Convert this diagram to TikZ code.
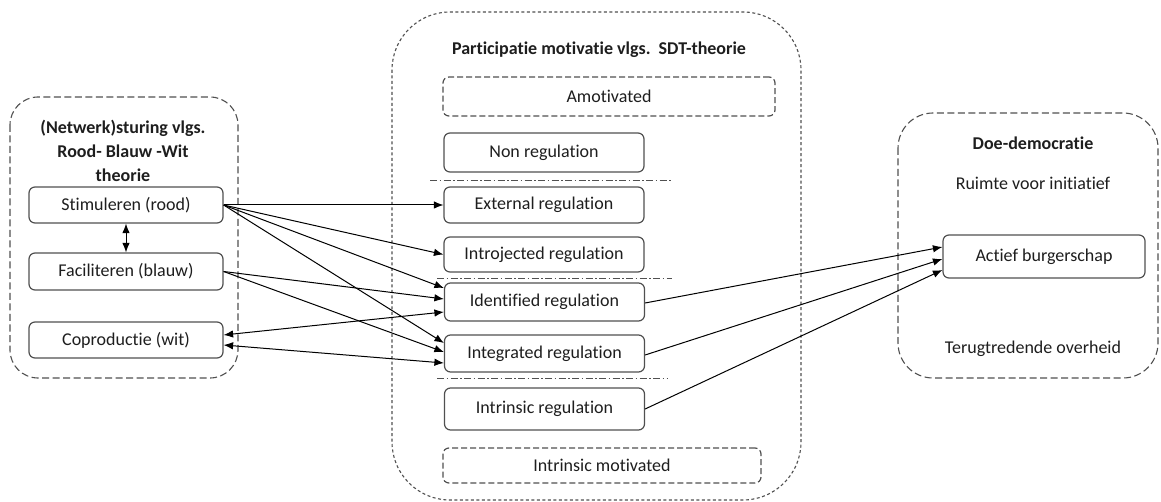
\documentclass[tikz,border=0pt]{standalone}
\usepackage{fontspec}
\setmainfont{Carlito}[Ligatures={NoCommon}]
\usetikzlibrary{arrows.meta,calc}
\definecolor{boxline}{HTML}{505050}
\definecolor{txt}{HTML}{1E1E1E}
\begin{document}
\begin{tikzpicture}[x=1pt,y=-1pt,
  every node/.style={font=\fontsize{18}{21}\selectfont, text=txt},
  regbox/.style={draw=boxline, line width=1.2pt, rounded corners=6pt, inner sep=0pt, minimum width=200pt},
  lbox/.style={regbox, minimum width=194pt, minimum height=36pt},
  dbox/.style={draw=boxline, line width=1.2pt, rounded corners=6pt, inner sep=0pt, dash pattern=on 6pt off 3pt},
  container/.style={draw=boxline, line width=1.1pt, dash pattern=on 7pt off 3.5pt},
  midcontainer/.style={draw=boxline, line width=1.1pt, dash pattern=on 3pt off 2.5pt},
  sep/.style={draw=boxline, line width=1pt, dash pattern=on 7pt off 2.5pt on 1.5pt off 2.5pt},
  title/.style={font=\bfseries\fontsize{18}{21}\selectfont},
  arr/.style={-{Latex[length=9.5pt,width=7.5pt]}, line width=1pt, black},
  darr/.style={{Latex[length=9.5pt,width=7.5pt]}-{Latex[length=9.5pt,width=7.5pt]}, line width=1pt, black}
]
\useasboundingbox (0,0) rectangle (1161,502);
\fill[white] (0,0) rectangle (1161,502);

% containers
\draw[container, rounded corners=28pt] (10,97) rectangle (238,378);
\draw[midcontainer, rounded corners=58pt] (392,12) rectangle (801,500);
\draw[container, rounded corners=35pt] (898,113) rectangle (1158,378);

% left titles
\node[title] (lt1) at (123,128) {(Netwerk)sturing vlgs.};
\node[title] (lt2) at (123,151) {Rood- Blauw -Wit};
\node[title] (lt3) at (123,175) {theorie};

% left boxes
\node[lbox] (stim) at (126,205) {Stimuleren (rood)};
\node[lbox, minimum height=37pt] (fac) at (126,271.5) {Faciliteren (blauw)};
\node[lbox] (cop) at (126,340) {Coproductie (wit)};

% middle
\node[title] (mt) at (599,50) {Participatie motivatie vlgs.\ \ SDT-theorie};
\node[dbox, minimum width=332pt, minimum height=39pt] (amo) at (609,96.5) {Amotivated};
\node[regbox, minimum height=39pt] (non) at (544,152.5) {Non regulation};
\node[regbox, minimum height=36pt] (ext) at (544,205) {External regulation};
\node[regbox, minimum height=35pt] (intro) at (544,254.5) {Introjected regulation};
\node[regbox, minimum height=38pt] (ident) at (544.5,302) {Identified regulation};
\node[regbox, minimum height=37pt] (integ) at (544.5,353.5) {Integrated regulation};
\node[regbox, minimum height=42pt] (intr) at (544.5,409) {Intrinsic regulation};
\node[dbox, minimum width=318pt, minimum height=35pt] (imot) at (602,465.5) {Intrinsic motivated};

\draw[sep] (430,181) -- (673,181);
\draw[sep] (437,279) -- (672,279);
\draw[sep] (437,378) -- (667,378);

% right
\node[title] (rt) at (1033,143) {Doe-democratie};
\node (ruimte) at (1033,183) {Ruimte voor initiatief};
\node[regbox, minimum width=202pt, minimum height=43pt] (act) at (1044,256.5) {Actief burgerschap};
\node (terug) at (1033,349) {Terugtredende overheid};

% arrows
\draw[darr] (stim.south) -- (fac.north);
\draw[arr] (stim.east) -- (ext.west);
\draw[arr] (stim.east) -- (intro.west);
\draw[arr] (stim.east) -- ([yshift=14pt]ident.west);
\draw[arr] (stim.east) -- ([yshift=10.5pt]integ.west);
\draw[arr] (fac.east) -- ([yshift=3pt]ident.west);
\draw[arr] (fac.east) -- ([yshift=1.5pt]integ.west);
\draw[darr] ([yshift=5pt]cop.east) -- ([yshift=-10pt]ident.west);
\draw[darr] ([yshift=-5pt]cop.east) -- ([yshift=-9.5pt]integ.west);

\draw[arr] ([yshift=-1pt]ident.east) -- ([yshift=9.5pt]act.west);
\draw[arr] ([yshift=-1.5pt]integ.east) -- ([yshift=-2.5pt]act.west);
\draw[arr] (intr.east) -- ([yshift=-13.5pt]act.west);
\end{tikzpicture}
\end{document}
